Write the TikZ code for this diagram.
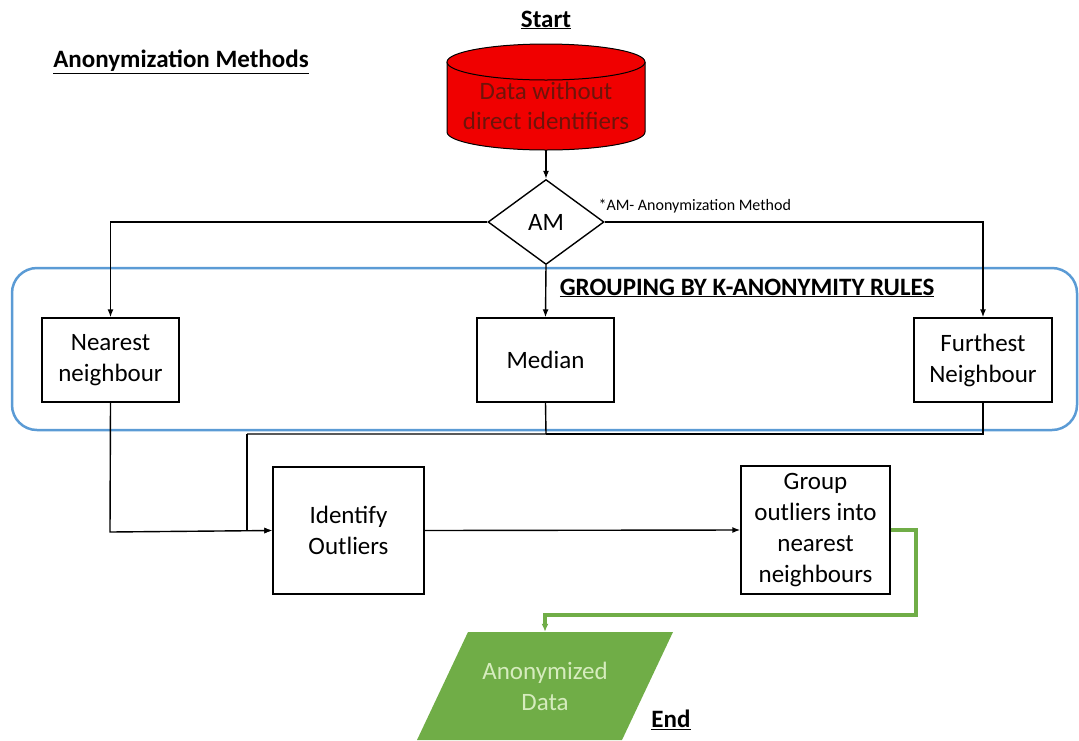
\documentclass[tikz,border=0pt]{standalone}
\usepackage{fontspec}
\setmainfont{Carlito}
\usetikzlibrary{shapes.geometric,arrows.meta}
\definecolor{boxblue}{RGB}{91,155,213}
\definecolor{flowgreen}{RGB}{112,173,71}
\definecolor{datared}{RGB}{240,0,0}
\definecolor{datatext}{RGB}{110,20,10}
\definecolor{anontext}{RGB}{214,236,190}
\begin{document}
\begin{tikzpicture}[x=1pt,y=-1pt,
  conn/.style={line width=1.4pt,draw=black},
  arr/.style={conn,-{Latex[length=8pt,width=6pt]}},
  greenconn/.style={line width=3.6pt,draw=flowgreen,-{Latex[length=8pt,width=7pt]}},
  procbox/.style={draw=black,line width=1.4pt,fill=white,align=center,font=\fontsize{25}{31}\selectfont,inner sep=0pt},
  heading/.style={font=\bfseries\fontsize{25}{28}\selectfont}]
\useasboundingbox (0,0) rectangle (1079,740);
% headings
\node[heading] (start) at (546,20) {\underline{Start}};
\node[heading] (methods) at (181,62) {\underline{Anonymization Methods}};
% cylinder
\fill[datared] (447,62) -- (447,132) arc[start angle=180,end angle=360,x radius=99pt,y radius=18pt] -- (645,62) -- cycle;
\draw[line width=1pt] (447,62) -- (447,132) arc[start angle=180,end angle=360,x radius=99pt,y radius=18pt] -- (645,62);
\draw[line width=1pt,fill=datared] (546,62) ellipse[x radius=99pt,y radius=18pt];
\node[align=center,text=datatext,font=\fontsize{25}{30}\selectfont] (data) at (546,106) {Data without\\direct identifiers};
\coordinate (databot) at (546,150);
% decision
\node[draw=black,line width=1.4pt,diamond,minimum width=116pt,minimum height=85pt,inner sep=0pt,font=\fontsize{25}{28}\selectfont] (am) at (546,222) {AM};
\node[anchor=west,font=\fontsize{16}{18}\selectfont] (amnote) at (595,206) {*AM- Anonymization Method};
% grouping frame
\draw[boxblue,line width=2.5pt,rounded corners=25pt] (12,268) rectangle (1077,430);
\node[heading] (grouping) at (747,288) {\underline{GROUPING BY K-ANONYMITY RULES}};
% methods
\node[procbox,minimum width=137pt,minimum height=84pt] (near) at (110.5,360) {Nearest\\neighbour};
\node[procbox,minimum width=137pt,minimum height=84pt] (median) at (545.5,360) {Median};
\node[procbox,minimum width=138pt,minimum height=84pt] (furth) at (983,360) {Furthest\\Neighbour};
% later steps
\node[procbox,minimum width=151pt,minimum height=127pt] (ident) at (348.5,530.5) {Identify\\Outliers};
\node[procbox,minimum width=149pt,minimum height=128pt] (group) at (815.5,530) {Group\\outliers into\\nearest\\neighbours};
% output
\fill[flowgreen] (468,632) -- (673,632) -- (622,740) -- (417,740) -- cycle;
\node[align=center,text=anontext,font=\fontsize{25}{31}\selectfont,minimum height=108pt,inner sep=0pt] (anon) at (545,686) {Anonymized\\Data};
\node[heading] (end) at (671,720) {\underline{End}};
% connectors
\coordinate (rightturn) at (983,222);
\coordinate (midjoin) at (546,434);
\coordinate (leftjoin) at (247,434);
\coordinate (nearturn) at (110,532);
\coordinate (greenturn) at (916,615);
\draw[arr] (databot) -- (am.north);
\draw[arr] (am.west) -| (near.north);
\draw[arr] (am.east) -| (furth.north);
\draw[arr] (am.south) -- (median.north);
\draw[conn] (median.south) -- (midjoin) -- (leftjoin);
\draw[conn] (furth.south) |- (midjoin);
\draw[arr] (leftjoin) |- (ident.west);
\draw[arr] (near.south) -- (nearturn) -- (ident.west);
\draw[arr] (ident.east) -- (group.west);
\draw[greenconn] (group.east) -| (greenturn) -| (anon.north);
\end{tikzpicture}
\end{document}
